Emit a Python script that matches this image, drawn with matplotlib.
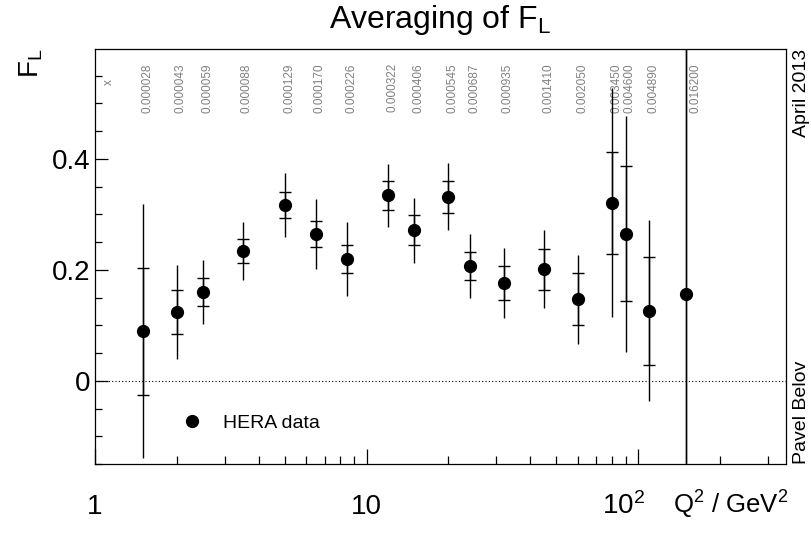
import matplotlib
matplotlib.use('Agg')
import matplotlib.pyplot as plt
from matplotlib.ticker import FixedLocator, MultipleLocator, NullFormatter, FuncFormatter
from matplotlib.transforms import offset_copy

plt.rcParams['font.family'] = ['Liberation Sans', 'DejaVu Sans']
plt.rcParams['mathtext.fontset'] = 'custom'
plt.rcParams['mathtext.rm'] = 'Liberation Sans'
plt.rcParams['mathtext.it'] = 'Liberation Sans:italic'
plt.rcParams['mathtext.default'] = 'regular'

# F_L vs Q2
q2 = [1.5, 2.0, 2.5, 3.5, 5.0, 6.5, 8.5, 12, 15, 20, 24, 32, 45, 60, 80, 90, 110, 150]
fl = [0.089, 0.124, 0.160, 0.234, 0.317, 0.265, 0.219, 0.334, 0.271, 0.332,
      0.207, 0.176, 0.201, 0.147, 0.321, 0.265, 0.126, 0.156]
stat_err = [0.115, 0.039, 0.025, 0.021, 0.023, 0.023, 0.025, 0.027, 0.027, 0.029,
            0.026, 0.031, 0.037, 0.047, 0.092, 0.122, 0.098, 0.8]
tot_err = [0.229, 0.085, 0.057, 0.053, 0.058, 0.063, 0.067, 0.057, 0.059, 0.061,
           0.058, 0.063, 0.070, 0.080, 0.206, 0.213, 0.163, 1.0]
x_vals = ['0.000028', '0.000043', '0.000059', '0.000088', '0.000129', '0.000170',
          '0.000226', '0.000322', '0.000406', '0.000545', '0.000687', '0.000935',
          '0.001410', '0.002050', '0.003450', '0.004600', '0.004890', '0.016200']

xtick_vals = [1, 10, 100]
xtick_text = ['1', '10', '$10^{2}$']

fig = plt.figure(figsize=(8.12, 5.33), dpi=100)
ax = fig.add_axes([0.117, 0.1295, 0.851, 0.7785])
ax.set_xscale('log')
ax.set_xlim(1, 350)
ax.set_ylim(-0.15, 0.598)

ax.axhline(0, color='black', lw=0.8, ls=(0, (1, 2)), zorder=1)

ax.errorbar(q2, fl, yerr=tot_err, fmt='none', ecolor='black', elinewidth=1, capsize=0)
ax.errorbar(q2, fl, yerr=stat_err, fmt='none', ecolor='black', elinewidth=1,
            capsize=4.3, capthick=1)
ax.plot(q2, fl, 'o', color='black', ms=8.5, label='HERA data', zorder=4)

# x values written above each point
for i, (q, xv) in enumerate(zip(q2, x_vals)):
    dx = 7 if i == len(q2) - 1 else 3
    tr = offset_copy(ax.get_xaxis_transform(), fig=fig, x=dx, units='points')
    ax.text(q, 0.966, xv, transform=tr, rotation=90, ha='center', va='top',
            fontsize=8.5, color='0.5', zorder=1)
ax.text(0.02, 0.921, 'x', transform=ax.transAxes, rotation=90, ha='center',
        va='center', fontsize=8.5, color='0.5')

# axes / ticks
for sp in ax.spines.values():
    sp.set_linewidth(0.9)
ax.xaxis.set_major_locator(FixedLocator(xtick_vals))
ax.xaxis.set_minor_locator(FixedLocator([2, 3, 4, 5, 6, 7, 8, 9, 20, 30, 40, 50, 60,
                                         70, 80, 90, 200, 300]))
ax.xaxis.set_major_formatter(NullFormatter())
ax.xaxis.set_minor_formatter(NullFormatter())
ax.yaxis.set_major_locator(MultipleLocator(0.2))
ax.yaxis.set_minor_locator(MultipleLocator(0.05))
ax.yaxis.set_major_formatter(FuncFormatter(lambda v, p: '%g' % round(v, 3)))
ax.tick_params(axis='x', which='major', direction='in', length=11, width=0.9, top=False)
ax.tick_params(axis='x', which='minor', direction='in', length=6, width=0.9, top=False)
ax.tick_params(axis='y', which='major', direction='in', length=9.5, width=0.9,
               right=False, labelsize=20, pad=3.5)
ax.tick_params(axis='y', which='minor', direction='in', length=5, width=0.9, right=False)

xlab_tr = ax.get_xaxis_transform()
for v, s in zip(xtick_vals[:2], xtick_text[:2]):
    ax.text(v, -0.12, s, transform=xlab_tr, ha='center', va='baseline', fontsize=20)
ax.text(xtick_vals[2], -0.12, xtick_text[2],
        transform=offset_copy(xlab_tr, fig=fig, x=5, units='points'),
        ha='right', va='baseline', fontsize=20)

ax.text(1.003, -0.12, 'Q$^{2}$ / GeV$^{2}$', transform=ax.transAxes, ha='right',
        va='baseline', fontsize=18.5)
ax.text(-0.073, 1.0, 'F$_{L}$', transform=ax.transAxes, rotation=90, ha='right',
        va='top', fontsize=20)
ax.set_title('Averaging of F$_{L}$', fontsize=23, pad=15)

ax.text(1.01, 1.0, 'April 2013', transform=ax.transAxes, rotation=90, ha='left',
        va='top', fontsize=14)
ax.text(1.01, 0.0, 'Pavel Belov', transform=ax.transAxes, rotation=90, ha='left',
        va='bottom', fontsize=14)

ax.legend(loc='center left', bbox_to_anchor=(0.126, 0.099), frameon=False,
          fontsize=14, handlelength=1.0, handletextpad=1.1, borderpad=0,
          borderaxespad=0, numpoints=1)

fig.savefig('out.png', dpi=100)
